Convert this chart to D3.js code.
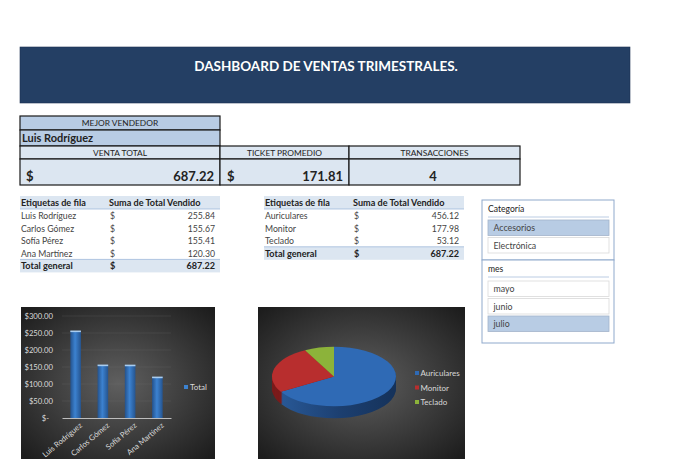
<!DOCTYPE html>
<html>
<head>
<meta charset="utf-8">
<script src="https://cdn.jsdelivr.net/npm/d3@7"></script>
<style>
html, body { margin: 0; padding: 0; background: #fff; overflow: hidden; }
svg { display: block; font-family: Lato, sans-serif; }
</style>
</head>
<body>
<div class="container"></div>
<script>
const WIDTH = 680;
const HEIGHT = 459;

const TITLE = "DASHBOARD DE VENTAS TRIMESTRALES.";
const bestSeller = "Luis Rodríguez";
const kpiLabels = ["VENTA TOTAL", "TICKET PROMEDIO", "TRANSACCIONES"];
const kpiValues = [687.22, 171.81, 4];

const sellers = ["Luis Rodríguez", "Carlos Gómez", "Sofía Pérez", "Ana Martínez"];
const sellerSales = [255.84, 155.67, 155.41, 120.30];
const products = ["Auriculares", "Monitor", "Teclado"];
const productSales = [456.12, 177.98, 53.12];
const totalSales = 687.22;

const categories = ["Accesorios", "Electrónica"];
const months = ["mayo", "junio", "julio"];
const selectedCategory = "Accesorios";
const selectedMonth = "julio";

const yTicks = [0, 50, 100, 150, 200, 250, 300];
const pieColors = ["#2f6ab5", "#b82e2e", "#8cb33a"];
const pieSideColors = ["url(#pieSideBlue)", "#7c1c1c", "#5e7a24"];

var svg = d3.select('.container').append('svg')
	.attr('width', WIDTH)
	.attr('height', HEIGHT);

var translate = function(x, y){
	return "translate("+x+","+y+")";
};

var money = d3.format(",.2f");
var moneyTick = function(d){ return d === 0 ? "$-" : "$" + d3.format(".2f")(d); };

// gradients
var defs = svg.append('defs');

var addPanelGradient = function(id){
	var g = defs.append('radialGradient').attr('id', id).attr('cx', '50%').attr('cy', '50%').attr('r', '68%');
	g.append('stop').attr('offset', '0%').attr('stop-color', '#5f5f5f');
	g.append('stop').attr('offset', '100%').attr('stop-color', '#1d1d1d');
};
addPanelGradient('panelBar');
addPanelGradient('panelPie');

var barGrad = defs.append('linearGradient').attr('id', 'barFill');
barGrad.append('stop').attr('offset', '0%').attr('stop-color', '#24528c');
barGrad.append('stop').attr('offset', '45%').attr('stop-color', '#3c82d0');
barGrad.append('stop').attr('offset', '100%').attr('stop-color', '#25548f');

var sideGrad = defs.append('linearGradient').attr('id', 'pieSideBlue')
	.attr('gradientUnits', 'userSpaceOnUse')
	.attr('x1', -62).attr('x2', 62).attr('y1', 0).attr('y2', 0);
sideGrad.append('stop').attr('offset', '0%').attr('stop-color', '#2a5c9c');
sideGrad.append('stop').attr('offset', '55%').attr('stop-color', '#1c3f70');
sideGrad.append('stop').attr('offset', '100%').attr('stop-color', '#15325a');

// banner
svg.append('rect').attr('x', 20).attr('y', 47).attr('width', 610).attr('height', 56)
	.attr('fill', '#243f64').attr('stroke', '#1b3150').attr('stroke-width', 0.6);
svg.append('text').attr('x', 326).attr('y', 70.5).attr('text-anchor', 'middle')
	.attr('font-size', 13.5).attr('font-weight', 700).attr('fill', '#fff').text(TITLE);

// cell helper for the kpi boxes
var cell = function(x, y, w, h, fill){
	svg.append('rect').attr('x', x).attr('y', y).attr('width', w).attr('height', h)
		.attr('fill', fill).attr('stroke', '#1a1a1a').attr('stroke-width', 1.2);
};
var label = function(x, y, txt, size, weight, anchor, color){
	return svg.append('text').attr('x', x).attr('y', y).attr('text-anchor', anchor || 'start')
		.attr('font-size', size).attr('font-weight', weight || 400)
		.attr('fill', color || '#222').text(txt);
};

cell(20, 116, 200, 14, '#b8cce4');
label(120, 126, "MEJOR VENDEDOR", 8.4, 400, 'middle');
cell(20, 130, 200, 16, '#b8cce4');
label(22, 142, bestSeller, 11, 700);

var kpiX = [20, 220, 349];
var kpiW = [200, 129, 171];
kpiLabels.forEach(function(d, i){
	cell(kpiX[i], 146, kpiW[i], 13, '#dce6f1');
	cell(kpiX[i], 159, kpiW[i], 26, '#dce6f1');
	label(kpiX[i] + kpiW[i] / 2, 156, d, 8.4, 400, 'middle');
});
label(26, 181, "$", 13, 700);
label(214, 181, money(kpiValues[0]), 13, 700, 'end');
label(227, 181, "$", 13, 700);
label(343, 181, money(kpiValues[1]), 13, 700, 'end');
label(433, 181, kpiValues[2], 13, 700, 'middle');

// pivot tables
var pivot = function(x, names, values){
	var rowH = 12.6;
	var g = svg.append('g').attr('transform', translate(x, 196));
	g.append('rect').attr('width', 200).attr('height', 13).attr('fill', '#dce6f1');
	g.append('line').attr('x1', 0).attr('x2', 200).attr('y1', 13).attr('y2', 13).attr('stroke', '#95b3d7').attr('stroke-width', 0.7);
	g.append('text').attr('x', 1).attr('y', 10).attr('font-size', 9.1).attr('font-weight', 700).attr('fill', '#222').text("Etiquetas de fila");
	g.append('text').attr('x', 89).attr('y', 10).attr('font-size', 9.1).attr('font-weight', 700).attr('fill', '#222').text("Suma de Total Vendido");

	var rows = g.selectAll('g.row').data(names).enter().append('g')
		.attr('class', 'row')
		.attr('transform', function(d, i){ return translate(0, 13 + i * rowH); });
	rows.append('text').attr('x', 1).attr('y', 10).attr('font-size', 8.7).attr('fill', '#444').text(function(d){ return d; });
	rows.append('text').attr('x', 90).attr('y', 10).attr('font-size', 8.7).attr('fill', '#444').text("$");
	rows.append('text').attr('x', 195).attr('y', 10).attr('font-size', 8.7).attr('text-anchor', 'end').attr('fill', '#444')
		.text(function(d, i){ return money(values[i]); });

	var t = g.append('g').attr('transform', translate(0, 13 + names.length * rowH));
	t.append('rect').attr('width', 200).attr('height', 13).attr('fill', '#dce6f1');
	t.append('line').attr('x1', 0).attr('x2', 200).attr('y1', 0).attr('y2', 0).attr('stroke', '#95b3d7').attr('stroke-width', 0.7);
	t.append('text').attr('x', 1).attr('y', 10).attr('font-size', 9.1).attr('font-weight', 700).attr('fill', '#222').text("Total general");
	t.append('text').attr('x', 90).attr('y', 10).attr('font-size', 9.1).attr('font-weight', 700).attr('fill', '#222').text("$");
	t.append('text').attr('x', 195).attr('y', 10).attr('font-size', 9.1).attr('font-weight', 700).attr('text-anchor', 'end').attr('fill', '#222').text(money(totalSales));
};
pivot(20, sellers, sellerSales);
pivot(264, products, productSales);

// slicers
var slicer = function(y, h, title, items, selected, firstY){
	var g = svg.append('g').attr('transform', translate(482, y));
	g.append('rect').attr('width', 132).attr('height', h).attr('fill', '#fff').attr('stroke', '#8fa9cc').attr('stroke-width', 1);
	g.append('text').attr('x', 6).attr('y', 12).attr('font-size', 8.6).attr('fill', '#222').text(title);
	g.append('line').attr('x1', 6).attr('x2', 127).attr('y1', 17).attr('y2', 17).attr('stroke', '#a9bfdc').attr('stroke-width', 0.8);
	var b = g.selectAll('g.item').data(items).enter().append('g')
		.attr('class', 'item')
		.attr('transform', function(d, i){ return translate(6, firstY + i * 17.5); });
	b.append('rect').attr('width', 121).attr('height', 15.5)
		.attr('fill', function(d){ return d === selected ? '#b8cce4' : '#fff'; })
		.attr('stroke', function(d){ return d === selected ? '#a3b4ca' : '#d9d9d9'; })
		.attr('stroke-width', 0.8);
	b.append('text').attr('x', 5.5).attr('y', 11).attr('font-size', 8.8).attr('fill', '#444').text(function(d){ return d; });
};
slicer(200, 60, "Categoría", categories, selectedCategory, 20);
slicer(260, 83, "mes", months, selectedMonth, 21);

// bar chart
var panelFrame = function(x, y, w, h, fill){
	svg.append('rect').attr('x', x).attr('y', y).attr('width', w).attr('height', h).attr('fill', fill);
};
panelFrame(21, 307, 194, 152, 'url(#panelBar)');

var xScale = d3.scaleBand().domain(sellers).range([62, 171]).paddingInner(0.61).paddingOuter(0.305);
var yScale = d3.scaleLinear().domain([0, 300]).range([418, 316]);

var barG = svg.append('g');
barG.selectAll('line.grid').data(yTicks.slice(1)).enter().append('line')
	.attr('class', 'grid')
	.attr('x1', 62).attr('x2', 171)
	.attr('y1', function(d){ return yScale(d); })
	.attr('y2', function(d){ return yScale(d); })
	.attr('stroke', '#777').attr('stroke-opacity', 0.35).attr('stroke-width', 0.6);

barG.selectAll('rect.bar').data(sellerSales).enter().append('rect')
	.attr('class', 'bar')
	.attr('x', function(d, i){ return xScale(sellers[i]); })
	.attr('y', function(d){ return yScale(d); })
	.attr('width', xScale.bandwidth())
	.attr('height', function(d){ return yScale(0) - yScale(d); })
	.attr('fill', 'url(#barFill)');
barG.selectAll('rect.cap').data(sellerSales).enter().append('rect')
	.attr('class', 'cap')
	.attr('x', function(d, i){ return xScale(sellers[i]); })
	.attr('y', function(d){ return yScale(d) - 0.5; })
	.attr('width', xScale.bandwidth())
	.attr('height', 1.6)
	.attr('fill', '#a9cdf0');

var yAxis = d3.axisLeft(yScale).tickValues(yTicks).tickFormat(moneyTick).tickSize(0).tickPadding(9);
var yG = svg.append('g').attr('transform', translate(62, 0)).call(yAxis);
yG.select('.domain').remove();
yG.selectAll('text').attr('font-size', 7.7).attr('fill', '#d9d9d9').attr('font-family', 'Lato, sans-serif')
	.attr('dx', function(d){ return d === 0 ? -4 : 0; });

var xAxis = d3.axisBottom(xScale).tickSize(0).tickPadding(7);
var xG = svg.append('g').attr('transform', translate(0, 418)).call(xAxis);
xG.select('.domain').attr('stroke', '#bdbdbd').attr('stroke-width', 1);
xG.selectAll('text')
	.attr('font-size', 7.7).attr('fill', '#d9d9d9').attr('font-family', 'Lato, sans-serif')
	.attr('text-anchor', 'end')
	.attr('dx', '0').attr('dy', '0.5em')
	.attr('transform', 'rotate(-40)');

svg.append('rect').attr('x', 184).attr('y', 385).attr('width', 4).attr('height', 4).attr('fill', '#3c82d0');
svg.append('text').attr('x', 190).attr('y', 390).attr('font-size', 8).attr('fill', '#d9d9d9').text("Total");

// 3d pie: a stack of flattened pies makes the wall, the last one is the top face
panelFrame(258, 307, 207, 152, 'url(#panelPie)');

var PIE_RX = 62;
var PIE_TILT = 0.48;
var PIE_DEPTH = 12;
var arcs = d3.pie().sort(null)(productSales);
var arc = d3.arc().innerRadius(0).outerRadius(PIE_RX);
var pieG = svg.append('g').attr('transform', translate(334, 376.5));

d3.range(PIE_DEPTH, 0, -1).forEach(function(off){
	pieG.append('g')
		.attr('transform', "translate(0," + off + ") scale(1," + PIE_TILT + ")")
		.selectAll('path').data(arcs).enter().append('path')
		.attr('d', arc)
		.attr('fill', function(d, i){ return pieSideColors[i]; });
});
pieG.append('g')
	.attr('transform', "scale(1," + PIE_TILT + ")")
	.selectAll('path').data(arcs).enter().append('path')
	.attr('d', arc)
	.attr('fill', function(d, i){ return pieColors[i]; });

var legendY = d3.scalePoint().domain(products).range([373, 402]);
var legend = svg.selectAll('g.legend').data(products).enter().append('g')
	.attr('class', 'legend')
	.attr('transform', function(d){ return translate(415, legendY(d)); });
legend.append('rect').attr('x', 0).attr('y', -2).attr('width', 4).attr('height', 4)
	.attr('fill', function(d, i){ return pieColors[i]; });
legend.append('text').attr('x', 5.5).attr('y', 3).attr('font-size', 8).attr('fill', '#d9d9d9').text(function(d){ return d; });
</script>
</body>
</html>
